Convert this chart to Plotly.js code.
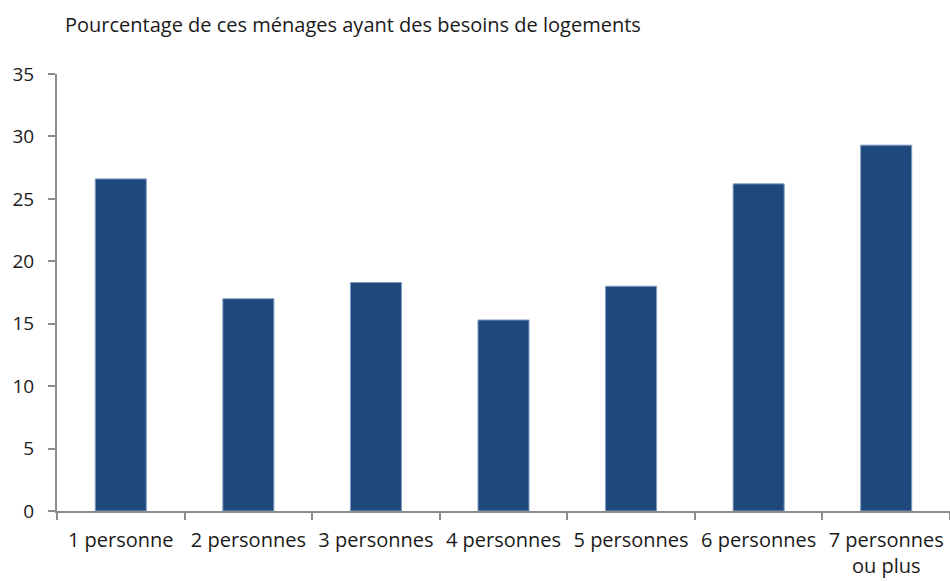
<!DOCTYPE html>
<html>
<head>
<meta charset="utf-8">
<script src="https://cdn.plot.ly/plotly-3.0.1.min.js"></script>
<style>html,body{margin:0;padding:0;background:#fff;}#chart{width:950px;height:581px;}</style>
</head>
<body>
<div id="chart"></div>
<script>
const categories = ["1 personne", "2 personnes", "3 personnes", "4 personnes", "5 personnes", "6 personnes", "7 personnes<br>ou plus"];
const values = [26.6, 17.0, 18.3, 15.3, 18.0, 26.2, 29.3];
const titleText = "Pourcentage de ces ménages ayant des besoins de logements";

const font = "'Open Sans', 'Noto Sans', sans-serif";
const trace = {
  type: "bar",
  x: categories,
  y: values,
  width: 0.4,
  marker: { color: "#1F497D", line: { color: "#7F9BC0", width: 1 } },
  hoverinfo: "x+y"
};
const layout = {
  width: 950, height: 581,
  margin: { l: 57, r: 0, t: 74, b: 70 },
  paper_bgcolor: "#fff", plot_bgcolor: "#fff",
  showlegend: false,
  font: { family: font, size: 20, color: "#1a1a1a" },
  title: {
    text: titleText,
    xref: "container", yref: "container",
    x: 65/950, xanchor: "left",
    y: 1 - 25/581, yanchor: "middle",
    font: { family: font, size: 20, color: "#1a1a1a" }
  },
  xaxis: {
    type: "category",
    showline: true, linecolor: "#8c8c8c", linewidth: 2,
    ticks: "outside", tickson: "boundaries", ticklen: 7, tickcolor: "#8c8c8c", tickwidth: 2,
    ticklabelstandoff: 10,
    showgrid: false, zeroline: false,
    tickfont: { family: font, size: 20, color: "#1a1a1a" }
  },
  yaxis: {
    range: [0, 35], dtick: 5, tick0: 0,
    showline: true, linecolor: "#8c8c8c", linewidth: 2,
    ticks: "outside", ticklen: 7, tickcolor: "#8c8c8c", tickwidth: 2,
    ticklabelstandoff: 10,
    showgrid: false, zeroline: false,
    tickfont: { family: font, size: 19, color: "#1a1a1a" }
  }
};
Plotly.newPlot("chart", [trace], layout, { displayModeBar: false, staticPlot: true });
</script>
</body>
</html>
